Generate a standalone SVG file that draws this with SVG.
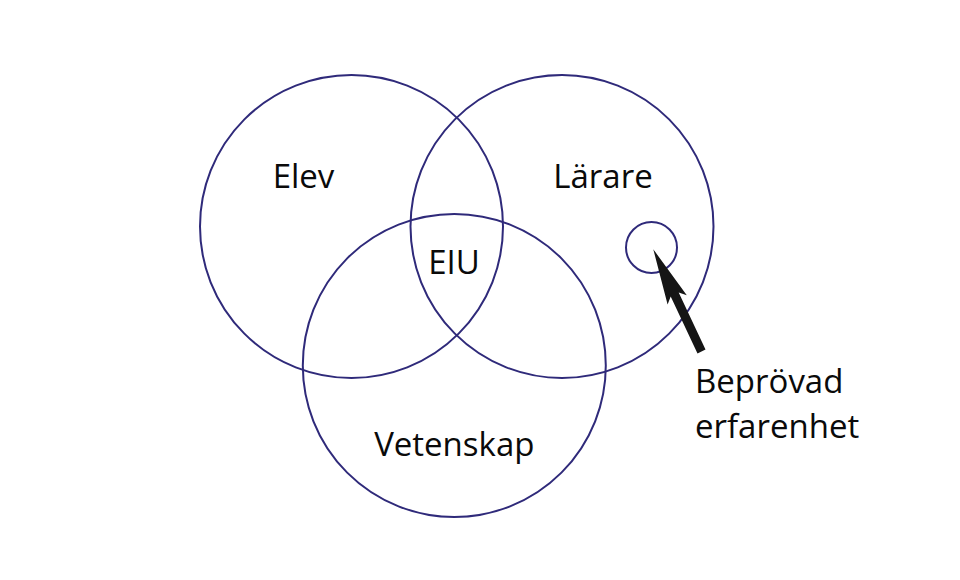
<svg xmlns="http://www.w3.org/2000/svg" width="960" height="580" viewBox="0 0 960 580">
<style>
.c{fill:none;stroke:#2f2a7a;stroke-width:2}
.t{font-family:"Open Sans","Noto Sans","Liberation Sans",sans-serif;font-size:33px;fill:#0a0a0a}
.m{text-anchor:middle}
</style>
<rect width="960" height="580" fill="#fff"/>
<g id="elev"><circle class="c" cx="351.5" cy="226.5" r="151.5"/><text class="t m" x="303.5" y="188">Elev</text></g>
<g id="larare"><circle class="c" cx="562" cy="226.5" r="151.5"/><text class="t m" x="603" y="188">Lärare</text></g>
<g id="vetenskap"><circle class="c" cx="454.3" cy="365.5" r="151.5"/><text class="t m" x="454.3" y="456">Vetenskap</text></g>
<g id="eiu"><text class="t m" x="454" y="273.5">EIU</text></g>
<g id="erfarenhet"><circle class="c" cx="651.5" cy="247.5" r="25.5"/><text class="t" x="695" y="393">Beprövad</text><text class="t" x="695" y="438">erfarenhet</text></g>
<g id="connectors"><polygon fill="#151515" points="653.3,249.3 686.8,295.3 678.7,292.6 705.5,349.6 697.5,353.4 670.7,296.4 667.6,304.5"/></g>
</svg>
